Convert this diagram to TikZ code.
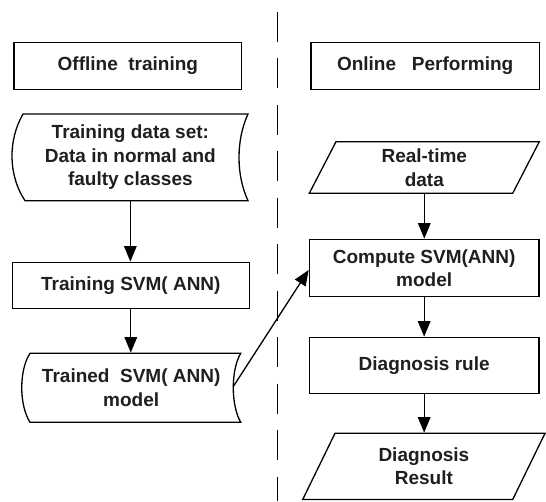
\documentclass[tikz,border=0pt]{standalone}
\usepackage{fontspec}
\setmainfont{Liberation Sans}
\usetikzlibrary{arrows.meta,calc}

\begin{document}
\begin{tikzpicture}[x=1pt,y=-1pt,
  line width=1.3pt, line join=miter,
  every node/.style={font=\bfseries\fontsize{19}{23.5}\selectfont,
    text=black!88, align=center, inner sep=0pt},
  box/.style={draw, rectangle},
  slot/.style={rectangle},
  flow/.style={-{Triangle[length=15.5pt,width=12.5pt]}, line width=1.3pt},
  divider/.style={line width=1.4pt, dash pattern=on 30pt off 16.5pt}]
\useasboundingbox (0,0) rectangle (546,501);

% dashed divider between the two phases
\draw[divider] (277.7,11.7) -- (277.7,501);

% ---- offline column ----
\node[box, minimum width=227.7pt, minimum height=46.6pt] (offline) at (127.85,66) {Offline\ \ training};

\draw (130,114) -- (248,114) .. controls (236,140) and (236,175) .. (248,200.7)
      -- (25,200.7) .. controls (8,175) and (8,140) .. (23,114) -- cycle;
\node[slot, minimum width=235.3pt, minimum height=86.7pt] (tdata) at (130.35,157.35)
  {Training data set:\\Data in normal and\\faulty classes};

\node[box, minimum width=237pt, minimum height=46pt] (tsvm) at (130.8,285.3) {Training SVM( ANN)};

\draw (130,353.3) -- (240.7,353.3) .. controls (230.8,370) and (230.8,405) .. (240.7,422.3)
      -- (30,422.3) .. controls (19,405) and (19,370) .. (30,353.3) -- cycle;
\node[slot, minimum width=219pt, minimum height=69pt] (trained) at (131.2,387.8)
  {Trained\ \ SVM( ANN)\\model};
\coordinate (trainedR) at (233.3,386.5);

% ---- online column ----
\node[box, minimum width=228.3pt, minimum height=46.6pt] (online) at (425.15,66) {Online\ \ \ Performing};

\draw (336,141.7) -- (539.3,141.7) -- (512.7,193.3) -- (309.3,193.3) -- cycle;
\node[slot, minimum width=230pt, minimum height=51.6pt] (rt) at (424.3,167.5) {Real-time\\data};

\node[box, minimum width=229.7pt, minimum height=57.4pt] (compute) at (424.15,268) {Compute SVM(ANN)\\model};

\node[box, minimum width=229.7pt, minimum height=56pt] (rule) at (424.15,365.3) {Diagnosis rule};

\draw (335,433.3) -- (545,433.3) -- (512.7,499.5) -- (302.7,499.5) -- cycle;
\node[slot, minimum width=242.3pt, minimum height=66.2pt] (res) at (423.9,466.4) {Diagnosis\\Result};

% ---- connectors ----
\draw[flow] (tdata.south) -- (tdata.south |- tsvm.north);
\draw[flow] (tsvm.south) -- (tsvm.south |- trained.north);
\draw[flow] (trainedR) -- ($(compute.west)+(0,2)$);
\draw[flow] (rt.south) -- (rt.south |- compute.north);
\draw[flow] (compute.south) -- (compute.south |- rule.north);
\draw[flow] (rule.south) -- (rule.south |- res.north);
\end{tikzpicture}
\end{document}
